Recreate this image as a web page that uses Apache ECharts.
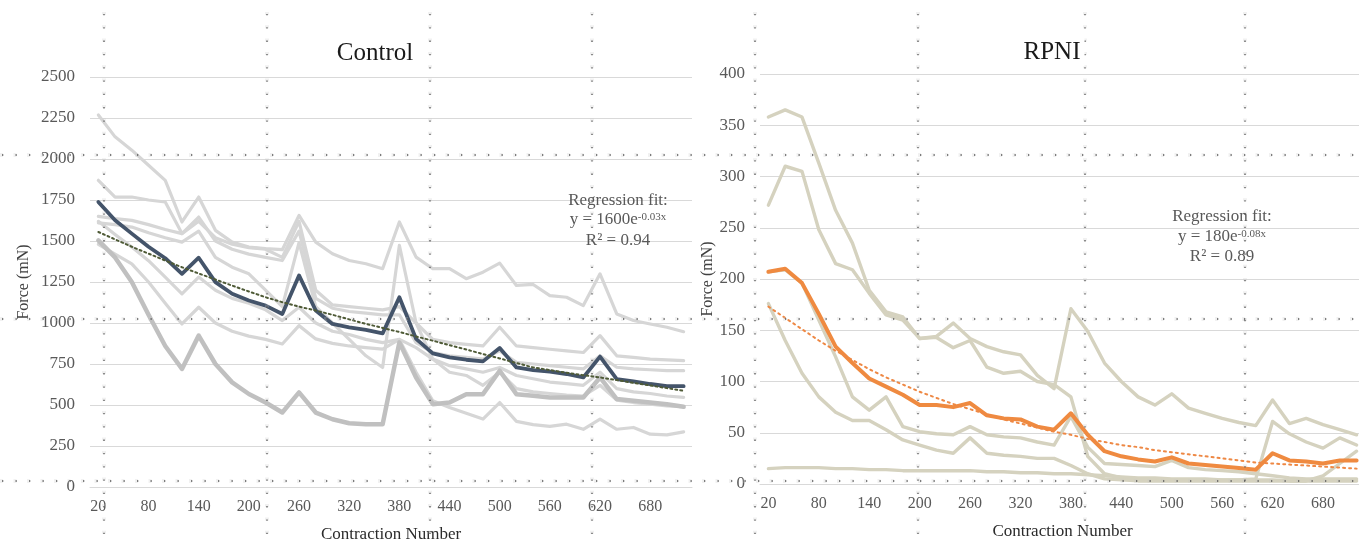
<!DOCTYPE html>
<html><head><meta charset="utf-8">
<script src="https://cdn.jsdelivr.net/npm/echarts@6/dist/echarts.min.js"></script>
<style>html,body{margin:0;padding:0;background:#fff}#c{width:1359px;height:542px}</style>
</head><body><div id="c"></div>
<script>
// ---------- DATA ----------
const categories = ['20','40','60','80','100','120','140','160','180','200','220','240','260','280','300','320','340','360','380','400','420','440','460','480','500','520','540','560','580','600','620','640','660','680','700','720'];

// Control (left panel)
const controlMean  = [1738,1626,1545,1465,1395,1300,1398,1249,1178,1137,1106,1055,1290,1076,994,974,958,937,1157,903,815,790,776,766,848,729,713,703,689,668,795,658,644,628,615,615];
const controlTrend = [1555,1510,1465,1423,1381,1340,1302,1265,1228,1192,1157,1127,1100,1076,1050,1022,995,970,945,918,892,865,838,811,784,756,729,713,697,682,668,652,635,619,603,587];
const ctrlA = [2268,2135,2054,1962,1870,1616,1768,1565,1493,1463,1453,1447,1656,1493,1422,1381,1361,1331,1616,1402,1331,1331,1270,1310,1365,1229,1235,1167,1157,1106,1300,1055,1015,994,974,947];
const ctrlB = [1870,1768,1768,1750,1738,1545,1620,1520,1480,1460,1450,1400,1620,1200,1110,1100,1090,1080,1100,1000,900,880,870,860,974,860,850,840,830,820,923,800,790,780,775,770];
const ctrlC = [1650,1636,1626,1600,1570,1545,1646,1500,1450,1420,1400,1381,1560,1150,1090,1070,1060,1050,1050,880,820,800,790,780,830,760,750,740,730,720,800,730,720,715,710,709];
const ctrlD = [1610,1600,1585,1550,1520,1493,1560,1400,1340,1300,1200,1100,1490,1100,1000,900,800,729,1473,1000,780,740,720,700,729,680,660,640,630,620,700,600,580,570,555,546];
const ctrlE = [1504,1400,1250,1050,860,720,923,750,638,567,515,454,577,454,413,389,383,383,882,668,505,515,566,566,709,566,556,546,546,546,668,536,526,515,505,489];
const ctrlF = [1620,1540,1463,1380,1280,1178,1280,1200,1150,1120,1080,1015,1096,1000,950,930,900,880,900,850,780,700,680,620,700,600,580,570,560,555,620,530,515,505,495,490];
const ctrlG = [1480,1420,1361,1250,1120,994,1096,1000,950,920,900,872,984,903,876,860,850,841,900,700,526,485,450,414,515,400,380,370,383,352,414,352,363,322,318,336];

// RPNI (right panel)
const rpniMean  = [207,210,196,166,134,118,103,95,87,77,77,75,79,67,64,63,56,53,69,48,32,27,24,22,26,20,18.5,17,15.5,14,30,23,22,20,23,23];
const rpniTrend = [173,162,151,140,130,121,112,104,97,90,84,78,73,68,63,59,55,51,48,44,41,38,36,33,31,29,27,25,23,21,20,19,18,17,16,15];
const rpniA = [358,365,358,313,267,235,189,168,163,142,144,157,142,134,129,126,106,93,171,149,118,100,85,77,88,74,69,64,60,57,82,59,64,58,53,48];
const rpniB = [272,310,305,248,215,209,186,165,160,142,143,133,140,114,108,110,100,97,85,27,10,6,5,5,4,4,4,4,4,5,61,49,41,35,45,38];
const rpniC = [176,140,108,85,70,62,62,53,43,38,33,30,45,30,28,27,25,25,18,10,5,4,3,3,3,3,3,3,3,3,3,3,3,8,20,32];
const rpniD = [207,209,196,160,124,85,72,85,56,51,49,48,56,48,46,45,41,38,66,36,20,19,18,17,23,16,14,13,12,10,8,6,5,5,5,5];
const rpniE = [15,16,16,16,15,15,14,14,13,13,13,13,13,12,12,11,11,10,10,9,8,7,6,6,5,5,5,4,4,4,4,3,3,3,3,3];

const titles = ['Control', 'RPNI'];
const fitText = [['Regression fit:', '1600e', '-0.03x', 'R² = 0.94'], ['Regression fit:', '180e', '-0.08x', 'R² = 0.89']];
const xName = 'Contraction Number';
const yName = 'Force (mN)';

// ---------- LAYOUT / STYLE ----------
const FONT = "'Liberation Serif', 'DejaVu Serif', serif";
const guideX = [104, 267, 430, 592, 755, 918, 1085, 1245];
const guideY = [155, 319, 481];

const chart = echarts.init(document.getElementById('c'));

function ln(data, idx, color, width, z, dash) {
  return {
    type: 'line', data: data, xAxisIndex: idx, yAxisIndex: idx,
    showSymbol: false, symbol: 'none', z: z, silent: true,
    lineStyle: { color: color, width: width, type: dash || 'solid', cap: 'round', join: 'round' }
  };
}

function xAxis(idx) {
  return {
    type: 'category', gridIndex: idx, data: categories, boundaryGap: true,
    axisTick: { show: false },
    axisLine: { show: true, lineStyle: { color: '#d9d9d9', width: 1 } },
    axisLabel: { interval: 2, color: '#595959', fontFamily: FONT, fontSize: 16, margin: 12 },
    name: xName, nameLocation: 'middle', nameGap: 39,
    nameTextStyle: { fontFamily: FONT, fontSize: 17, color: '#2b2b2b' }
  };
}
function yAxis(idx, max, interval, gap) {
  return {
    type: 'value', gridIndex: idx, min: 0, max: max, interval: interval,
    axisLine: { show: false }, axisTick: { show: false },
    axisLabel: { color: '#595959', fontFamily: FONT, fontSize: 17, margin: 15,
      formatter: function (v) { return String(v); } },
    splitLine: { lineStyle: { color: '#d9d9d9', width: 1 } },
    name: yName, nameLocation: 'middle', nameGap: gap, nameRotate: 90,
    nameTextStyle: { fontFamily: FONT, fontSize: 16, color: '#404040' }
  };
}

const graphics = [];
// decorative dotted guides
guideX.forEach(function (x) {
  graphics.push({ type: 'line', z: 99, silent: true, shape: { x1: x, y1: 12, x2: x, y2: 542 },
    style: { stroke: 'rgba(200,200,200,0.25)', lineWidth: 4, lineDash: [3, 10.3] } });
  graphics.push({ type: 'line', z: 100, silent: true, shape: { x1: x, y1: 14, x2: x, y2: 542 },
    style: { stroke: '#555', lineWidth: 1.3, lineDash: [1.3, 12] } });
});
guideY.forEach(function (y) {
  graphics.push({ type: 'line', z: 99, silent: true, shape: { x1: 0, y1: y, x2: 1359, y2: y },
    style: { stroke: 'rgba(200,200,200,0.25)', lineWidth: 4, lineDash: [3, 10.5] } });
  graphics.push({ type: 'line', z: 100, silent: true, shape: { x1: 2, y1: y, x2: 1359, y2: y },
    style: { stroke: '#555', lineWidth: 1.3, lineDash: [1.3, 12.2] } });
});
// titles
[[375, 53], [1052, 52]].forEach(function (p, k) {
  graphics.push({ type: 'text', x: p[0], y: p[1], z: 101, silent: true,
    style: { text: titles[k], fontFamily: FONT, fontSize: 25, fill: '#1a1a1a', align: 'center', verticalAlign: 'middle',
      backgroundColor: '#fff', padding: [2, 4] } });
});
// regression annotations
[[618, 201, 220, 241], [1222, 217, 237, 257]].forEach(function (p, k) {
  const t = fitText[k];
  graphics.push({ type: 'text', x: p[0], y: p[1], z: 101, silent: true,
    style: { text: t[0], fontFamily: FONT, fontSize: 17, fill: '#595959', align: 'center', verticalAlign: 'middle' } });
  graphics.push({ type: 'text', x: p[0], y: p[2], z: 101, silent: true,
    style: { text: '{a|y = ' + t[1] + '}{s|' + t[2] + '}', align: 'center', verticalAlign: 'middle',
      rich: {
        a: { fontFamily: FONT, fontSize: 17, fill: '#595959', color: '#595959' },
        s: { fontFamily: FONT, fontSize: 11, fill: '#595959', color: '#595959', verticalAlign: 'top', padding: [0, 0, 6, 0] }
      } } });
  graphics.push({ type: 'text', x: p[0], y: p[3], z: 101, silent: true,
    style: { text: t[3], fontFamily: FONT, fontSize: 17, fill: '#595959', align: 'center', verticalAlign: 'middle' } });
});

const lightGray = '#d6d6d6';
const tan = '#d5d2bf';

chart.setOption({
  animation: false,
  backgroundColor: '#fff',
  grid: [
    { left: 90, top: 77, width: 602, height: 410, outerBoundsMode: 'none', containLabel: false },
    { left: 760, top: 74, width: 605, height: 410, outerBoundsMode: 'none', containLabel: false }
  ],
  xAxis: [xAxis(0), xAxis(1)],
  yAxis: [yAxis(0, 2500, 250, 58), yAxis(1, 400, 50, 44)],
  series: [
    ln(ctrlA, 0, lightGray, 3.2, 2),
    ln(ctrlB, 0, lightGray, 3.2, 2),
    ln(ctrlC, 0, lightGray, 3.2, 2),
    ln(ctrlD, 0, lightGray, 3.2, 2),
    ln(ctrlF, 0, lightGray, 3.2, 2),
    ln(ctrlG, 0, lightGray, 3.2, 2),
    ln(ctrlE, 0, '#c0c0c0', 4.5, 3),
    ln(controlMean, 0, '#44546a', 3.8, 5),
    ln(controlTrend, 0, '#4e5a36', 2, 6, [2, 3]),
    ln(rpniA, 1, tan, 3.4, 2),
    ln(rpniB, 1, tan, 3.4, 2),
    ln(rpniC, 1, tan, 3.4, 2),
    ln(rpniD, 1, tan, 3.4, 2),
    ln(rpniE, 1, tan, 3.4, 2),
    ln(rpniMean, 1, '#ef8a40', 4, 5),
    ln(rpniTrend, 1, '#ee8844', 2, 6, [2, 4])
  ],
  graphic: graphics
});
</script>
</body></html>
